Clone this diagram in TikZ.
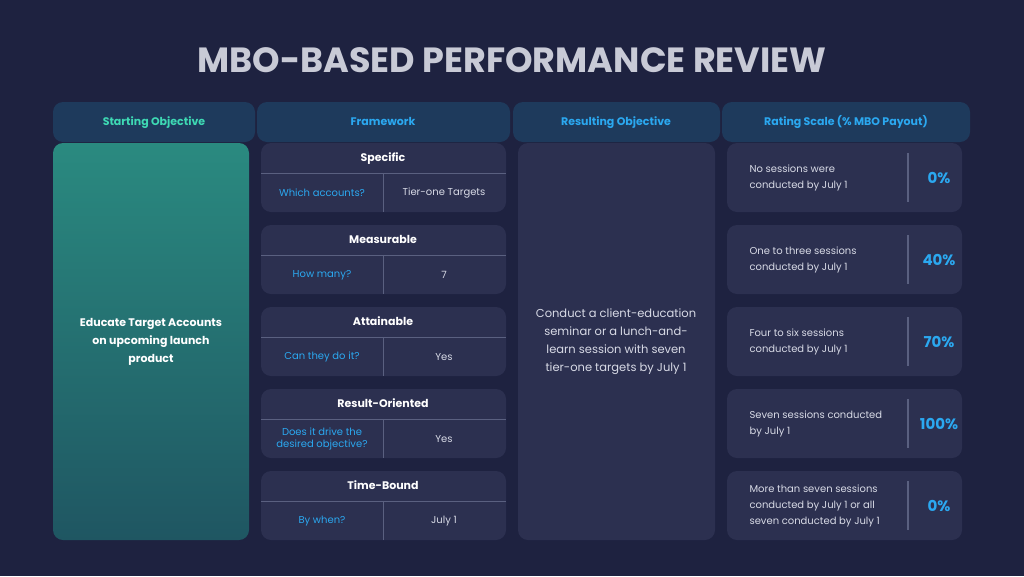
\documentclass[tikz,border=0pt]{standalone}
\usepackage{fontspec}
\setmainfont{Poppins}
\usetikzlibrary{calc}

\definecolor{bgcol}{HTML}{1E2240}
\definecolor{headcol}{HTML}{1E3A5C}
\definecolor{cardcol}{HTML}{2C3050}
\definecolor{tealtop}{HTML}{2A8A80}
\definecolor{tealbot}{HTML}{1F5662}
\definecolor{mint}{HTML}{3ED9B4}
\definecolor{skyblue}{HTML}{2BA8F0}
\definecolor{lightgrey}{HTML}{D8DAE6}
\definecolor{titlegrey}{HTML}{C8CAD6}
\definecolor{rulecol}{HTML}{5A6080}

\tikzset{
  head/.style={fill=headcol, rounded corners=10pt},
  card/.style={fill=cardcol, rounded corners=10pt},
  headtxt/.style={font=\fontsize{11}{13}\selectfont\bfseries, text height=8pt, text depth=2pt},
  asktxt/.style={font=\fontsize{10}{12}\selectfont, text=skyblue, align=center},
  anstxt/.style={font=\fontsize{10}{12}\selectfont, text=lightgrey, align=center},
}

\begin{document}
\begin{tikzpicture}[x=1pt,y=-1pt]

\fill[bgcol] (0,0) rectangle (1024,576);
\useasboundingbox (0,0) rectangle (1024,576);

\node (title) at (512,60) {\fontsize{35}{38}\selectfont\bfseries\color{titlegrey}MBO-BASED PERFORMANCE REVIEW};

% header tabs
\fill[head] (53,102) rectangle (255,142);
\fill[head] (257,102) rectangle (510,142);
\fill[head] (513,102) rectangle (720,142);
\fill[head] (722,102) rectangle (970,142);
\node[headtxt, text=mint] (h1) at (154,122) {Starting Objective};
\node[headtxt, text=skyblue] (h2) at (383,122) {Framework};
\node[headtxt, text=skyblue] (h3) at (616,122) {Resulting Objective};
\node[headtxt, text=skyblue] (h4) at (846,122) {Rating Scale (\% MBO Payout)};

% starting objective
\shade[top color=tealtop, bottom color=tealbot, rounded corners=10pt] (53,143) rectangle (249,540);
\node[font=\fontsize{11}{18}\selectfont\bfseries, text=white, align=center] (start) at (151,342) {Educate Target Accounts\\on upcoming launch\\product};

% framework
\foreach \t/\q/\a [count=\i from 0] in {
  Specific/Which accounts?/Tier-one Targets,
  Measurable/How many?/7,
  Attainable/Can they do it?/Yes,
  Result-Oriented/{Does it drive the\\desired objective?}/Yes,
  Time-Bound/By when?/July 1}{
  \pgfmathsetmacro{\y}{143+82*\i}
  \fill[card] (261,\y) rectangle (506,\y+69);
  \draw[rulecol] (261,\y+30) -- (506,\y+30);
  \draw[rulecol] (383,\y+30) -- (383,\y+69);
  \node[headtxt, text=white] (f\i) at (383,\y+15) {\t};
  \node[asktxt] (q\i) at (322,\y+50) {\q};
  \node[anstxt] (a\i) at (444,\y+50) {\a};
}

% resulting objective
\fill[card] (518,143) rectangle (715,540);
\node[font=\fontsize{11.5}{18}\selectfont, text=lightgrey, align=center] (result) at (616,342)
  {Conduct a client-education\\seminar or a lunch-and-\\learn session with seven\\tier-one targets by July 1};

% rating scale
\foreach \d/\p [count=\i from 0] in {
  {No sessions were\\conducted by July 1}/0\%,
  {One to three sessions\\conducted by July 1}/40\%,
  {Four to six sessions\\conducted by July 1}/70\%,
  {Seven sessions conducted\\by July 1}/100\%,
  {More than seven sessions\\conducted by July 1 or all\\seven conducted by July 1}/0\%}{
  \pgfmathsetmacro{\y}{143+82*\i}
  \fill[card] (727,\y) rectangle (962,\y+69);
  \draw[rulecol, line width=1.2pt] (908,\y+10) -- (908,\y+59);
  \node[anchor=west, font=\fontsize{10}{16}\selectfont, text=lightgrey, align=left] (d\i) at (746,\y+35) {\d};
  \node[font=\fontsize{15}{18}\selectfont\bfseries, text=skyblue] (p\i) at (939,\y+35) {\p};
}

\end{tikzpicture}
\end{document}
